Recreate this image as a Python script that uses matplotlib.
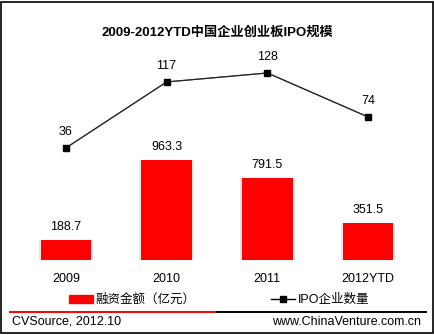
import numpy as np
import matplotlib
matplotlib.use('Agg')
import matplotlib.pyplot as plt
from matplotlib.lines import Line2D
from matplotlib.patches import Rectangle

plt.rcParams['font.family'] = ['Liberation Sans', 'Noto Sans CJK SC', 'DejaVu Sans']

# data
years = ['2009', '2010', '2011', '2012YTD']
amount = [188.7, 963.3, 791.5, 351.5]   # 融资金额（亿元）
ipo_count = [36, 117, 128, 74]          # IPO企业数量

W, H, DPI = 435, 335, 100
fig = plt.figure(figsize=(W / DPI, H / DPI), dpi=DPI)

# axes placed in pixel terms (top-left origin)
left_px, right_px = 15.5, 418.5
base_px, top_px = 259.5, 50.0
ax = fig.add_axes([left_px / W, (H - base_px) / H,
                   (right_px - left_px) / W, (base_px - top_px) / H])
ax_h = base_px - top_px

x = np.arange(len(years))
bar_scale = 0.1033      # px per unit
bars = ax.bar(x, amount, width=0.5, color='#ff0000', zorder=3, label='融资金额（亿元）')
# soft shadow behind bars
ax.bar(x, amount, width=0.54, color='#d8d8d8', zorder=2, alpha=0.6)
ax.set_xlim(-0.5, len(years) - 0.5)
ax.set_ylim(0, ax_h / bar_scale)

for xi, v in zip(x, amount):
    ax.annotate(f'{v:.1f}', (xi, v), xytext=(0, 9.4), textcoords='offset points',
                ha='center', va='center', fontsize=9)

ax2 = ax.twinx()
line_scale = 0.815
zero_off = (base_px - 177.3) / line_scale
ax2.set_ylim(-zero_off, -zero_off + ax_h / line_scale)
ax2.plot(x, ipo_count, color='#5a5a5a', lw=0.9, zorder=1)
ax2.plot(x, ipo_count, color='#222222', lw=0.8, marker='s', markersize=3.8,
         markerfacecolor='black', markeredgecolor='black', zorder=4, label='IPO企业数量')
for xi, v in zip(x, ipo_count):
    ax2.annotate(f'{v}', (xi, v), xytext=(0, 11.5), textcoords='offset points',
                 ha='center', va='center', fontsize=9)

for a in (ax, ax2):
    for s in a.spines.values():
        s.set_visible(False)
    a.set_yticks([])
ax.set_xticks(x)
ax.set_xticklabels(years, fontsize=9)
ax.tick_params(axis='x', length=0, pad=10)

fig.text(217.5 / W, 1 - 32 / H, '2009-2012YTD中国企业创业板IPO规模',
         ha='center', va='center', fontsize=9.5, fontweight='bold')

# legend
h_bar = Rectangle((0, 0), 1, 1, color='#ff0000')
h_line = Line2D([], [], color='black', lw=1, marker='s', markersize=3.8)
fig.legend([h_bar, h_line], ['融资金额（亿元）', 'IPO企业数量'], ncol=2,
           loc='center', bbox_to_anchor=(219 / W, 1 - 300 / H), frameon=False,
           fontsize=9, handlelength=1.9, handleheight=0.6, handletextpad=0.25,
           columnspacing=6.0, borderpad=0)

# footer rule
fig.add_artist(Line2D([10 / W, 217 / W], [1 - 312 / H] * 2, color='#ff0000', lw=1.4))
fig.add_artist(Line2D([217 / W, 426 / W], [1 - 312 / H] * 2, color='black', lw=1.4))
fig.text(12 / W, 1 - 322 / H, 'CVSource, 2012.10', ha='left', va='center', fontsize=9)
fig.text(421 / W, 1 - 322 / H, 'www.ChinaVenture.com.cn', ha='right', va='center', fontsize=9)

# outer frame
fig.add_artist(Rectangle((1.5 / W, 1 - 332.5 / H), 431.5 / W, 331 / H,
                         fill=False, edgecolor='black', lw=1.2))

fig.savefig('out.png', dpi=DPI)
